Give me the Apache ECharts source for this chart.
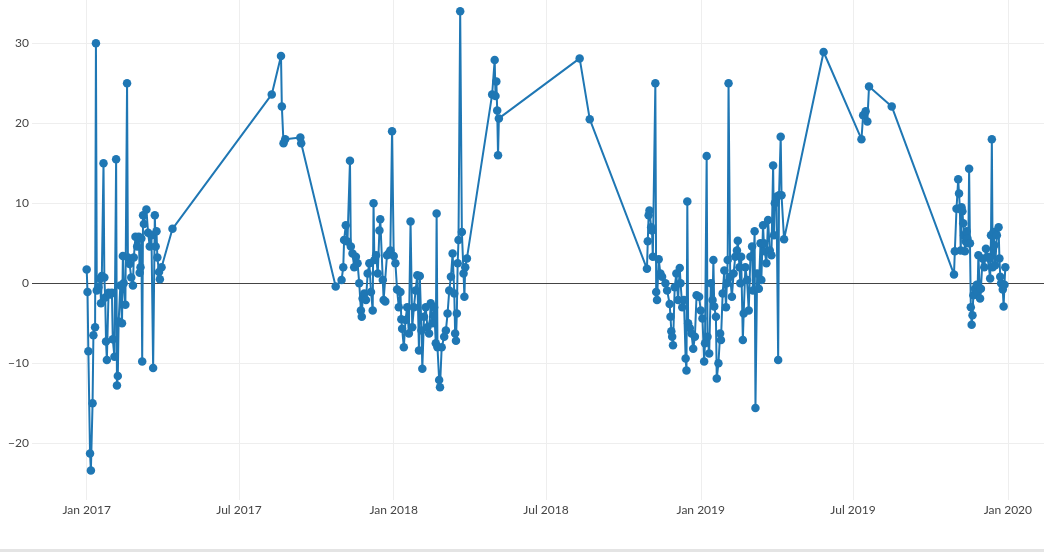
<!DOCTYPE html>
<html><head><meta charset="utf-8">
<script src="https://cdn.jsdelivr.net/npm/echarts@6/dist/echarts.min.js"></script>
<style>
html,body{margin:0;padding:0;background:#fff;overflow:hidden;}
#chart{position:absolute;left:0;top:0;width:1044px;height:549px;}
#rule{position:absolute;left:0;top:549px;width:1044px;height:3px;background:#e4e4e4;}
</style>
</head><body><div id="chart"></div><div id="rule"></div>
<script>
// ---- data ----
const dates2017 = ['2017-01-01','2017-01-02','2017-01-03','2017-01-05','2017-01-06','2017-01-08','2017-01-09','2017-01-11','2017-01-12','2017-01-13','2017-01-15','2017-01-17','2017-01-18','2017-01-19','2017-01-21','2017-01-22','2017-01-23','2017-01-24','2017-01-25','2017-01-27','2017-01-29','2017-01-31','2017-02-01','2017-02-03','2017-02-05','2017-02-06','2017-02-07','2017-02-08','2017-02-10','2017-02-12','2017-02-13','2017-02-14','2017-02-16','2017-02-18','2017-02-19','2017-02-21','2017-02-23','2017-02-25','2017-02-26','2017-02-28','2017-03-02','2017-03-04','2017-03-05','2017-03-06','2017-03-07','2017-03-08','2017-03-09','2017-03-10','2017-03-13','2017-03-15','2017-03-17','2017-03-19','2017-03-21','2017-03-23','2017-03-24','2017-03-25','2017-03-26','2017-03-28','2017-03-29','2017-03-31','2017-04-13','2017-08-09','2017-08-20','2017-08-21','2017-08-23','2017-08-25','2017-09-12','2017-09-13'];
const values2017 = [1.7,-1.1,-8.5,-21.3,-23.4,-15,-6.5,-5.5,30,-0.9,-0.5,0.6,-2.5,0.9,15,0.7,-1.8,-7.3,-9.6,-1.2,-1.4,-1.2,-7,-9.2,15.5,-12.8,-11.6,-4.8,-0.3,-5,3.4,0,-2.7,25,3.2,2.4,0.7,-0.3,3.2,5.8,4.6,5.8,1.3,2.0,5.6,-9.8,8.5,7.4,9.2,6.3,4.6,6.0,-10.6,8.5,4.6,6.5,3.2,1.4,0.5,2.0,6.8,23.6,28.4,22.1,17.5,18,18.2,17.5];

const dates2018 = ['2017-10-24','2017-10-31','2017-11-02','2017-11-03','2017-11-05','2017-11-07','2017-11-10','2017-11-11','2017-11-13','2017-11-15','2017-11-17','2017-11-19','2017-11-21','2017-11-23','2017-11-24','2017-11-25','2017-11-27','2017-11-29','2017-12-01','2017-12-03','2017-12-05','2017-12-07','2017-12-08','2017-12-09','2017-12-11','2017-12-13','2017-12-15','2017-12-16','2017-12-19','2017-12-20','2017-12-22','2017-12-24','2017-12-26','2017-12-28','2017-12-30','2018-01-01','2018-01-03','2018-01-05','2018-01-07','2018-01-09','2018-01-10','2018-01-11','2018-01-13','2018-01-15','2018-01-17','2018-01-19','2018-01-21','2018-01-23','2018-01-25','2018-01-27','2018-01-29','2018-01-31','2018-02-01','2018-02-03','2018-02-04','2018-02-06','2018-02-08','2018-02-10','2018-02-12','2018-02-14','2018-02-16','2018-02-18','2018-02-20','2018-02-21','2018-02-22','2018-02-24','2018-02-25','2018-02-27','2018-03-02','2018-03-04','2018-03-06','2018-03-08','2018-03-10','2018-03-12','2018-03-14','2018-03-15','2018-03-16','2018-03-17','2018-03-18','2018-03-19','2018-03-21','2018-03-23','2018-03-25','2018-03-26','2018-03-27','2018-03-29','2018-04-28','2018-05-01','2018-05-02','2018-05-03','2018-05-04','2018-05-05','2018-05-06','2018-08-10','2018-08-22'];
const values2018 = [-0.4,0.4,2.0,5.4,7.25,5.2,15.3,4.6,3.7,2.0,3.3,2.5,0,-3.4,-4.2,-1.9,-1.3,-2.1,1.2,2.5,-1.1,-3.4,10,2.9,3.5,1.2,6.6,8,0.4,-2.1,-2.3,3.5,3.7,4.1,19,3.4,2.5,-0.8,-3,-1.1,-4.5,-5.7,-8,-4.6,-3,-6.3,7.7,-5.5,-3,-0.9,1.0,-8.4,0.9,-5.9,-10.7,-4.2,-3,-5.5,-6.3,-2.5,-5,-3,-7.5,8.7,-8,-12.1,-13,-8,-6.7,-5.9,-3.8,-0.9,0.8,3.7,-1.3,-6.3,-7.2,-3.8,2.5,5.4,34,6.4,1.2,-1.7,2.0,3.1,23.6,27.9,23.4,25.2,21.6,16,20.6,28.1,20.5];

const dates2019 = ['2018-10-29','2018-10-30','2018-10-31','2018-11-01','2018-11-03','2018-11-04','2018-11-05','2018-11-08','2018-11-09','2018-11-10','2018-11-12','2018-11-14','2018-11-16','2018-11-20','2018-11-22','2018-11-25','2018-11-26','2018-11-27','2018-11-28','2018-11-29','2018-12-01','2018-12-03','2018-12-05','2018-12-07','2018-12-08','2018-12-10','2018-12-12','2018-12-14','2018-12-15','2018-12-16','2018-12-17','2018-12-19','2018-12-21','2018-12-23','2018-12-25','2018-12-27','2018-12-30','2019-01-01','2019-01-03','2019-01-05','2019-01-06','2019-01-08','2019-01-09','2019-01-11','2019-01-13','2019-01-15','2019-01-16','2019-01-17','2019-01-19','2019-01-20','2019-01-22','2019-01-24','2019-01-25','2019-01-27','2019-01-29','2019-01-31','2019-02-01','2019-02-02','2019-02-03','2019-02-05','2019-02-07','2019-02-09','2019-02-11','2019-02-13','2019-02-14','2019-02-16','2019-02-17','2019-02-18','2019-02-20','2019-02-21','2019-02-23','2019-02-25','2019-02-27','2019-03-01','2019-03-03','2019-03-04','2019-03-06','2019-03-07','2019-03-09','2019-03-11','2019-03-13','2019-03-14','2019-03-16','2019-03-17','2019-03-18','2019-03-20','2019-03-22','2019-03-24','2019-03-26','2019-03-28','2019-03-29','2019-03-30','2019-04-01','2019-04-03','2019-04-04','2019-04-06','2019-04-07','2019-04-10','2019-05-27','2019-07-11','2019-07-13','2019-07-16','2019-07-18','2019-07-20','2019-08-16'];
const values2019 = [1.8,5.25,8.5,9.1,7.0,6.6,3.3,25,-1.1,-2.1,3.0,1.2,0.8,0,-0.9,-2.6,-4.2,-6,-6.7,-7.75,-0.5,1.2,-2.1,1.9,0,-3,-2.1,-9.4,-10.9,10.2,-5,-5.6,-6.3,-8.2,-6.7,-1.5,-1.7,-3.4,-4.4,-9.8,-7.5,15.9,-6.7,-8.8,0,-2.1,2.9,-2.9,-4.2,-11.9,-10,-6.3,-7.1,-1.3,1.6,-3,0,2.9,25,0.8,-1.7,1.2,3.3,4.1,5.3,2.0,0,3.3,-7.1,-3.8,2.0,0.4,-3.4,3.3,4.6,-0.9,6.5,-15.6,1.2,-0.7,5.0,0.4,7.25,5.0,4.0,2.5,7.9,4.1,3.5,14.7,6.0,10,10.8,-9.6,11,18.3,11,5.5,28.9,18,21,21.5,20.2,24.6,22.1];

const dates2020 = ['2019-10-29','2019-10-30','2019-11-01','2019-11-03','2019-11-04','2019-11-05','2019-11-06','2019-11-07','2019-11-08','2019-11-09','2019-11-10','2019-11-11','2019-11-12','2019-11-13','2019-11-14','2019-11-15','2019-11-16','2019-11-17','2019-11-18','2019-11-19','2019-11-20','2019-11-21','2019-11-23','2019-11-25','2019-11-26','2019-11-27','2019-11-29','2019-11-30','2019-12-02','2019-12-04','2019-12-06','2019-12-08','2019-12-10','2019-12-11','2019-12-12','2019-12-13','2019-12-14','2019-12-15','2019-12-16','2019-12-17','2019-12-19','2019-12-21','2019-12-22','2019-12-23','2019-12-24','2019-12-26','2019-12-27','2019-12-28','2019-12-29'];
const values2020 = [1.1,4.0,9.3,13,11.2,9.3,4.1,9.5,9.0,7.5,6.0,4.0,5.2,6.5,5.6,5.0,14.3,5.0,-3,-5.2,-4.0,-1.5,-0.7,-0.2,-1.1,3.5,-1.9,-0.7,3.1,2.0,4.3,3.3,3.1,0.6,6.0,18,2.0,6.4,4.75,2.25,6.0,7.0,3.1,0.8,0,-0.8,-2.9,-0.2,2.0];

const xTickDates = ['2017-01-01','2017-07-01','2018-01-01','2018-07-01','2019-01-01','2019-07-01','2020-01-01'];
const xTickLabels = ['Jan 2017','Jul 2017','Jan 2018','Jul 2018','Jan 2019','Jul 2019','Jan 2020'];
const yTicks = [-20,-10,0,10,20,30];
const xRange = ['2016-10-28','2020-02-13'];
const yRange = [-27.1, 35.4];

// ---- build ----
function ts(s){ const p = s.split('-').map(Number); return Date.UTC(p[0], p[1]-1, p[2]); }
const allDates = dates2017.concat(dates2018, dates2019, dates2020);
const allValues = values2017.concat(values2018, values2019, values2020);
const seriesData = allDates.map((d,i)=>[ts(d), allValues[i]]);
const xTickTs = xTickDates.map(ts);

const gridLineData = yTicks.filter(v=>v!==0).map(v=>({yAxis:v}))
  .concat(xTickTs.map(t=>({xAxis:t})));

const chart = echarts.init(document.getElementById('chart'), null, {renderer:'canvas'});
chart.setOption({
  animation:false,
  backgroundColor:'#fff',
  grid:{left:32, right:0, top:0, bottom:49, containLabel:false},
  xAxis:{
    type:'value', min:ts(xRange[0]), max:ts(xRange[1]), scale:true,
    axisLine:{show:false}, axisTick:{show:false}, splitLine:{show:false},
    axisLabel:{
      customValues: xTickTs,
      formatter: v => { const i = xTickTs.indexOf(v); return i>=0 ? xTickLabels[i] : ''; },
      color:'#444', fontFamily:'Lato', fontSize:12, margin:4, hideOverlap:false
    }
  },
  yAxis:{
    type:'value', min:yRange[0], max:yRange[1],
    axisLine:{show:false}, axisTick:{show:false}, splitLine:{show:false},
    axisLabel:{
      customValues: yTicks,
      formatter: v => String(v).replace('-', '\u2212'),
      color:'#444', fontFamily:'Lato', fontSize:12, margin:3
    }
  },
  series:[
    {
      type:'line', data:[], z:1, silent:true, symbol:'none',
      markLine:{
        z:1, silent:true, symbol:['none','none'], label:{show:false}, animation:false,
        lineStyle:{type:'solid', color:'#eeeeee', width:1},
        emphasis:{disabled:true},
        data: gridLineData.concat([{yAxis:0, lineStyle:{color:'#444', width:1, type:'solid'}}])
      }
    },
    {
      type:'line', data:seriesData, z:3,
      symbol:'circle', symbolSize:8.5, showSymbol:true, showAllSymbol:true,
      itemStyle:{color:'#1f77b4'},
      lineStyle:{color:'#1f77b4', width:2},
      emphasis:{disabled:true}
    }
  ]
});
</script>
</body></html>
